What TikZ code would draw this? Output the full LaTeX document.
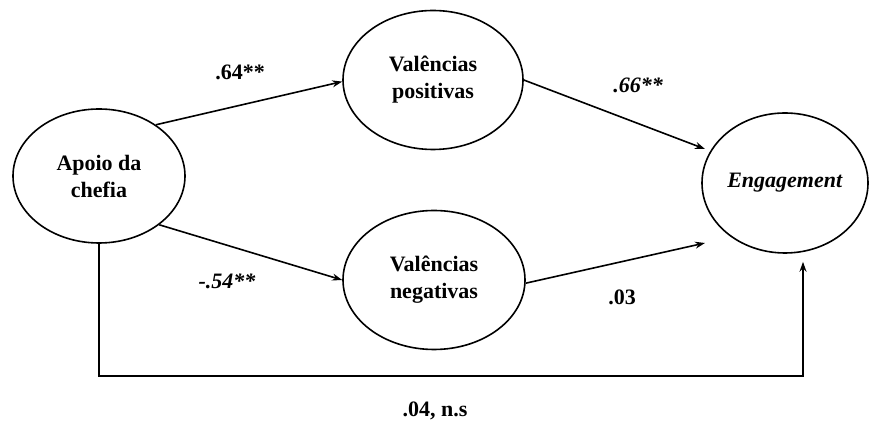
\documentclass[tikz,border=0pt]{standalone}
\usepackage{fontspec}
\setmainfont{Liberation Serif}
\usetikzlibrary{shapes.geometric, arrows.meta}

\begin{document}
\begin{tikzpicture}[>={Stealth[length=10pt, width=7pt]}, x=1pt, y=1pt,
  latent/.style={ellipse, draw, line width=1.6pt, inner sep=0pt, align=center,
    font=\bfseries\fontsize{22}{27}\selectfont},
  coef/.style={font=\bfseries\fontsize{22}{26}\selectfont},
  arc/.style={->, line width=1.6pt}]
  \useasboundingbox (0,0) rectangle (870,425);
  % latent variables
  \node[latent, minimum width=172pt, minimum height=134pt] (apoio) at (99,249) {Apoio da\\chefia};
  \node[latent, minimum width=180pt, minimum height=139pt] (vpos) at (433,345) {Valências\\positivas};
  \node[latent, minimum width=182pt, minimum height=139pt] (vneg) at (434,145) {Valências\\negativas};
  \node[latent, minimum width=166pt, minimum height=140pt] (eng) at (785,242) {\textit{Engagement}};
  \coordinate (tipA) at (705,276);
  \coordinate (tipB) at (705,182);
  \coordinate (corner) at (803,49);
  % paths
  \draw[arc] (apoio.42) -- (vpos.181);
  \draw[arc] (apoio.-39) -- (vneg.180);
  \draw[arc] (vpos.0) -- (tipA);
  \draw[arc] (vneg.-2) -- (tipB);
  \draw[arc] (apoio.south) |- (corner) -- ([yshift=-8pt]corner |- eng.south);
  % coefficients
  \node[coef] (c1) at (240,353) {.64**};
  \node[coef] (c2) at (638,340) {\itshape .66**};
  \node[coef] (c3) at (227,144) {\itshape -.54**};
  \node[coef] (c4) at (622,128) {.03};
  \node[coef] (c5) at (435,14) {.04, n.s};
\end{tikzpicture}
\end{document}
